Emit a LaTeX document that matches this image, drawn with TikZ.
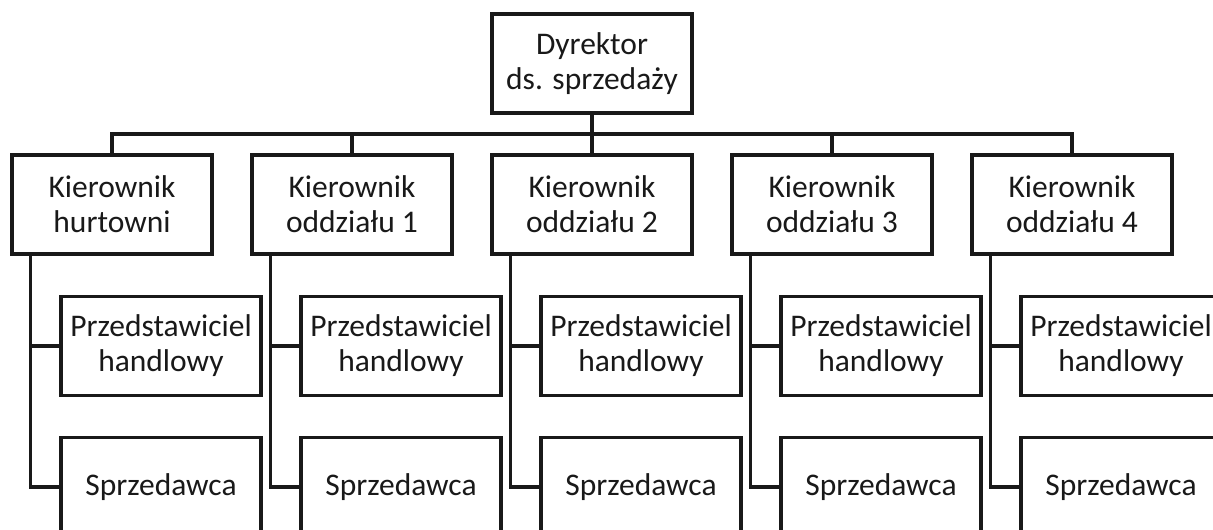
\documentclass[tikz,border=0pt]{standalone}
\usepackage{fontspec}
\setmainfont{Carlito}
\begin{document}
\begin{tikzpicture}[x=1pt,y=-1pt,
  box/.style={draw=black!90, line width=3.2pt, fill=white, minimum width=200pt, minimum height=99pt, inner sep=0pt, align=center, font=\fontsize{31.5}{35}\selectfont, text=black!90},
  conn/.style={draw=black!90, line width=3.2pt}]
\useasboundingbox (0,0) rectangle (1213,530);
\clip (0,0) rectangle (1213,530);
\fill[white] (0,0) rectangle (1213,530);
\node[box] (dir) at (592,63.5) {Dyrektor\\ds. sprzedaży};
\coordinate (bus) at (592,134);
\foreach \i/\x/\t in {0/112/{Kierownik\\hurtowni},1/352/{Kierownik\\oddziału 1},2/592/{Kierownik\\oddziału 2},3/832/{Kierownik\\oddziału 3},4/1072/{Kierownik\\oddziału 4}}{
  \node[box] (k\i) at (\x,204.5) {\t};
  \node[box] (p\i) at (\x+49,346) {Przedstawiciel\\handlowy};
  \node[box] (s\i) at (\x+49,487) {Sprzedawca};
  \coordinate (kb\i) at ([xshift=20pt]k\i.south west);
  \draw[conn] (dir.south) -- (dir.south |- bus) -| (k\i.north);
  \draw[conn] (kb\i) |- (s\i.west);
  \draw[conn] (kb\i |- p\i.west) -- (p\i.west);
}
\end{tikzpicture}
\end{document}
